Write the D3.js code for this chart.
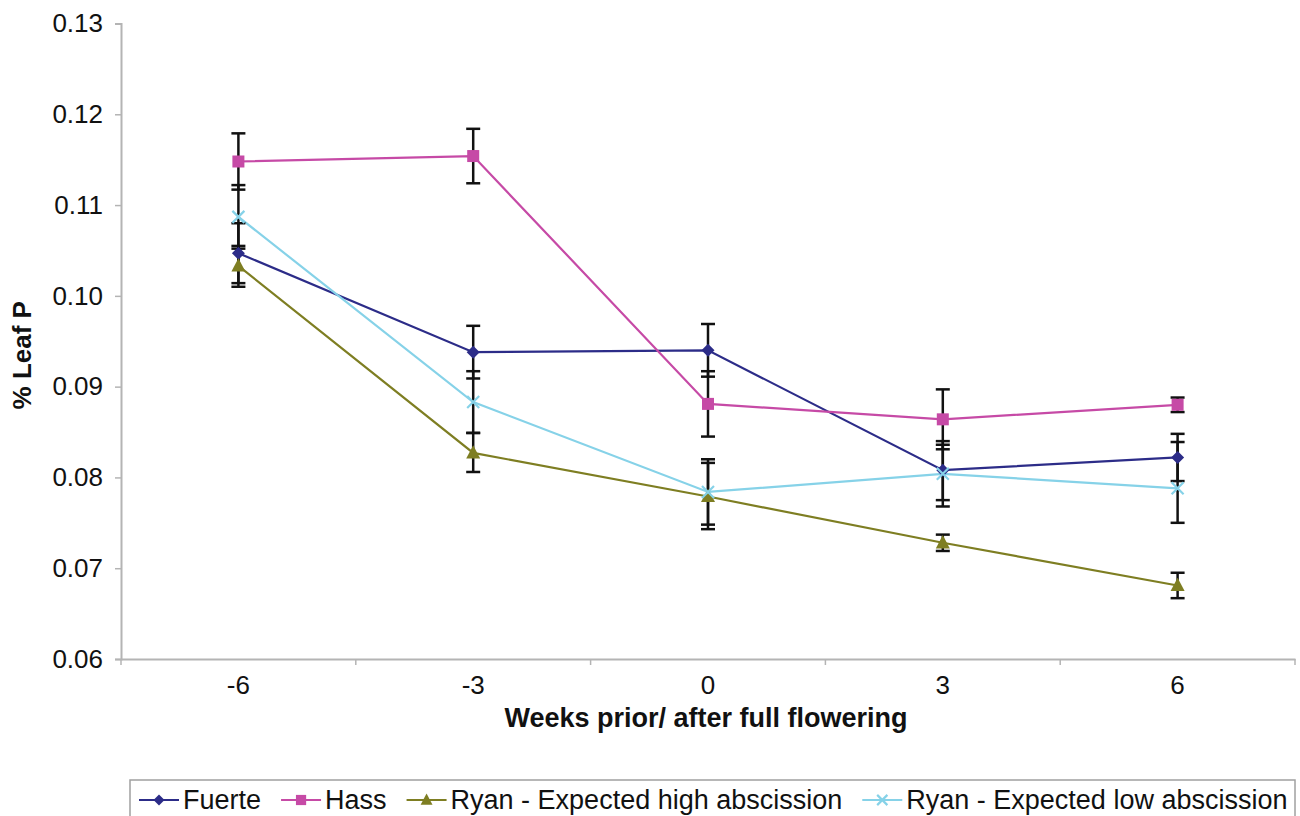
<!DOCTYPE html>
<html>
<head>
<meta charset="utf-8">
<script src="https://cdn.jsdelivr.net/npm/d3@7"></script>
<style>
  html, body { margin: 0; padding: 0; background: #fff; }
  svg { display: block; font-family: "Liberation Sans", Arial, sans-serif; }
</style>
</head>
<body>
<svg id="chart" width="1300" height="816"></svg>
<script>
// Weeks relative to full flowering
const weeks = ["-6", "-3", "0", "3", "6"];

// Leaf P (%) per cultivar / group
const fuerte   = [0.1047, 0.0938, 0.0940, 0.0808, 0.0822];
const hass     = [0.1148, 0.1154, 0.0881, 0.0864, 0.0880];
const ryanHigh = [0.1033, 0.0827, 0.0779, 0.0728, 0.0681];
const ryanLow  = [0.1087, 0.0883, 0.0784, 0.0804, 0.0788];

// Error bar extents (plus / minus)
const fuerteErrUp     = [0.0033, 0.0029, 0.0029, 0.0032, 0.0026];
const fuerteErrDown   = [0.0033, 0.0029, 0.0029, 0.0033, 0.0026];
const hassErrUp       = [0.0031, 0.0030, 0.0036, 0.0033, 0.0008];
const hassErrDown     = [0.0031, 0.0030, 0.0036, 0.0033, 0.0008];
const ryanHighErrUp   = [0.0022, 0.0022, 0.0037, 0.0009, 0.0014];
const ryanHighErrDown = [0.0023, 0.0021, 0.0036, 0.0009, 0.0014];
const ryanLowErrUp    = [0.0035, 0.0034, 0.0036, 0.0032, 0.0051];
const ryanLowErrDown  = [0.0035, 0.0034, 0.0036, 0.0036, 0.0038];

const yTicks = [0.06, 0.07, 0.08, 0.09, 0.10, 0.11, 0.12, 0.13];

const seriesNames = ["Fuerte", "Hass", "Ryan - Expected high abscission", "Ryan - Expected low abscission"];
const seriesColors = ["#2c2c88", "#c64aa6", "#7e7e22", "#86d2e8"];
const seriesMarkers = ["diamond", "square", "triangle", "cross"];

const series = [
  { name: seriesNames[0], values: fuerte,   up: fuerteErrUp,   down: fuerteErrDown,   color: seriesColors[0], marker: seriesMarkers[0] },
  { name: seriesNames[1], values: hass,     up: hassErrUp,     down: hassErrDown,     color: seriesColors[1], marker: seriesMarkers[1] },
  { name: seriesNames[2], values: ryanHigh, up: ryanHighErrUp, down: ryanHighErrDown, color: seriesColors[2], marker: seriesMarkers[2] },
  { name: seriesNames[3], values: ryanLow,  up: ryanLowErrUp,  down: ryanLowErrDown,  color: seriesColors[3], marker: seriesMarkers[3] }
];

const svg = d3.select("#chart");
const plot = { left: 121, right: 1295, top: 23.5, bottom: 659 };
const fontFamily = "'Liberation Sans', Arial, sans-serif";
const labelSize = 26;

const x = d3.scaleBand().domain(weeks).range([plot.left, plot.right]).padding(0);
const y = d3.scaleLinear().domain([0.06, 0.13]).range([plot.bottom, plot.top]);
const cx = d => x(d) + x.bandwidth() / 2;

const axisColor = "#b4b4b4";

// Y axis
const yAxis = svg.append("g")
  .attr("transform", `translate(${plot.left},0)`)
  .call(d3.axisLeft(y).tickValues(yTicks).tickFormat(d3.format(".2f")).tickSize(6).tickPadding(12));
yAxis.select(".domain").attr("stroke", axisColor).attr("stroke-width", 2);
yAxis.selectAll(".tick line").attr("stroke", axisColor).attr("stroke-width", 1.5);
yAxis.selectAll(".tick text").attr("fill", "#111")
  .style("font-size", labelSize + "px").style("font-family", fontFamily);

// X axis: ticks between categories
const xAxis = svg.append("g")
  .attr("transform", `translate(0,${plot.bottom})`)
  .call(d3.axisBottom(x).tickSize(0).tickPadding(17));
xAxis.select(".domain").attr("stroke", axisColor).attr("stroke-width", 2);
xAxis.selectAll(".tick text").attr("fill", "#111")
  .style("font-size", labelSize + "px").style("font-family", fontFamily);
const boundaries = weeks.map(w => x(w)).concat([x(weeks[weeks.length - 1]) + x.bandwidth()]);
xAxis.selectAll(".bound").data(boundaries).enter().append("line")
  .attr("class", "bound")
  .attr("x1", d => d).attr("x2", d => d)
  .attr("y1", 0).attr("y2", 6)
  .attr("stroke", axisColor).attr("stroke-width", 1.5);

// Axis titles
svg.append("text")
  .attr("x", (plot.left + plot.right) / 2 - 2).attr("y", 727)
  .attr("text-anchor", "middle")
  .style("font-size", "27px").style("font-weight", "bold").attr("fill", "#111")
  .text("Weeks prior/ after full flowering");

svg.append("text")
  .attr("transform", `translate(31,${(plot.top + plot.bottom) / 2 + 14}) rotate(-90)`)
  .attr("text-anchor", "middle")
  .style("font-size", "26px").style("font-weight", "bold").attr("fill", "#111")
  .text("% Leaf P");

// Lines
const line = d3.line().x((d, i) => cx(weeks[i])).y(d => y(d));
svg.append("g").selectAll("path").data(series).enter().append("path")
  .attr("d", s => line(s.values))
  .attr("fill", "none")
  .attr("stroke", s => s.color)
  .attr("stroke-width", 2.2);

// Error bars
const errG = svg.append("g");
series.forEach(s => {
  s.values.forEach((v, i) => {
    const px = cx(weeks[i]);
    const yTop = y(v + s.up[i]);
    const yBot = y(v - s.down[i]);
    errG.append("line").attr("x1", px).attr("x2", px).attr("y1", yTop).attr("y2", yBot)
      .attr("stroke", "#111").attr("stroke-width", 2.5);
    [yTop, yBot].forEach(yy => {
      errG.append("line").attr("x1", px - 7).attr("x2", px + 7).attr("y1", yy).attr("y2", yy)
        .attr("stroke", "#111").attr("stroke-width", 2.5);
    });
  });
});

// Marker shapes
function drawMarker(g, type, color, px, py, scale) {
  const k = scale || 1;
  if (type === "diamond") {
    const r = 6.5 * k;
    g.append("path").attr("d", `M${px},${py - r}L${px + r},${py}L${px},${py + r}L${px - r},${py}Z`)
      .attr("fill", color);
  } else if (type === "square") {
    const r = 6 * k;
    g.append("rect").attr("x", px - r).attr("y", py - r).attr("width", 2 * r).attr("height", 2 * r)
      .attr("fill", color);
  } else if (type === "triangle") {
    const r = 7 * k;
    g.append("path").attr("d", `M${px},${py - r * 1.1}L${px + r},${py + r * 0.8}L${px - r},${py + r * 0.8}Z`)
      .attr("fill", color);
  } else if (type === "cross") {
    const r = 6 * k;
    g.append("path").attr("d", `M${px - r},${py - r}L${px + r},${py + r}M${px - r},${py + r}L${px + r},${py - r}`)
      .attr("stroke", color).attr("stroke-width", 2.2).attr("fill", "none");
  }
}

const markG = svg.append("g");
series.forEach(s => {
  s.values.forEach((v, i) => drawMarker(markG, s.marker, s.color, cx(weeks[i]), y(v)));
});

// Legend: items laid out left to right from measured text widths
const legend = svg.append("g");
legend.append("rect")
  .attr("x", 130).attr("y", 780).attr("width", 1165).attr("height", 50)
  .attr("fill", "#fff").attr("stroke", "#a0a0a0").attr("stroke-width", 1.5);

const legendFont = 27;
let lx = 139;
const ly = 800;
series.forEach(s => {
  legend.append("line").attr("x1", lx).attr("x2", lx + 40).attr("y1", ly).attr("y2", ly)
    .attr("stroke", s.color).attr("stroke-width", 2.2);
  drawMarker(legend, s.marker, s.color, lx + 20, ly, 0.85);
  const t = legend.append("text").attr("x", lx + 44).attr("y", ly + 9)
    .style("font-size", legendFont + "px").attr("fill", "#111")
    .text(s.name);
  lx += 44 + t.node().getComputedTextLength() + 20;
});
</script>
</body>
</html>
